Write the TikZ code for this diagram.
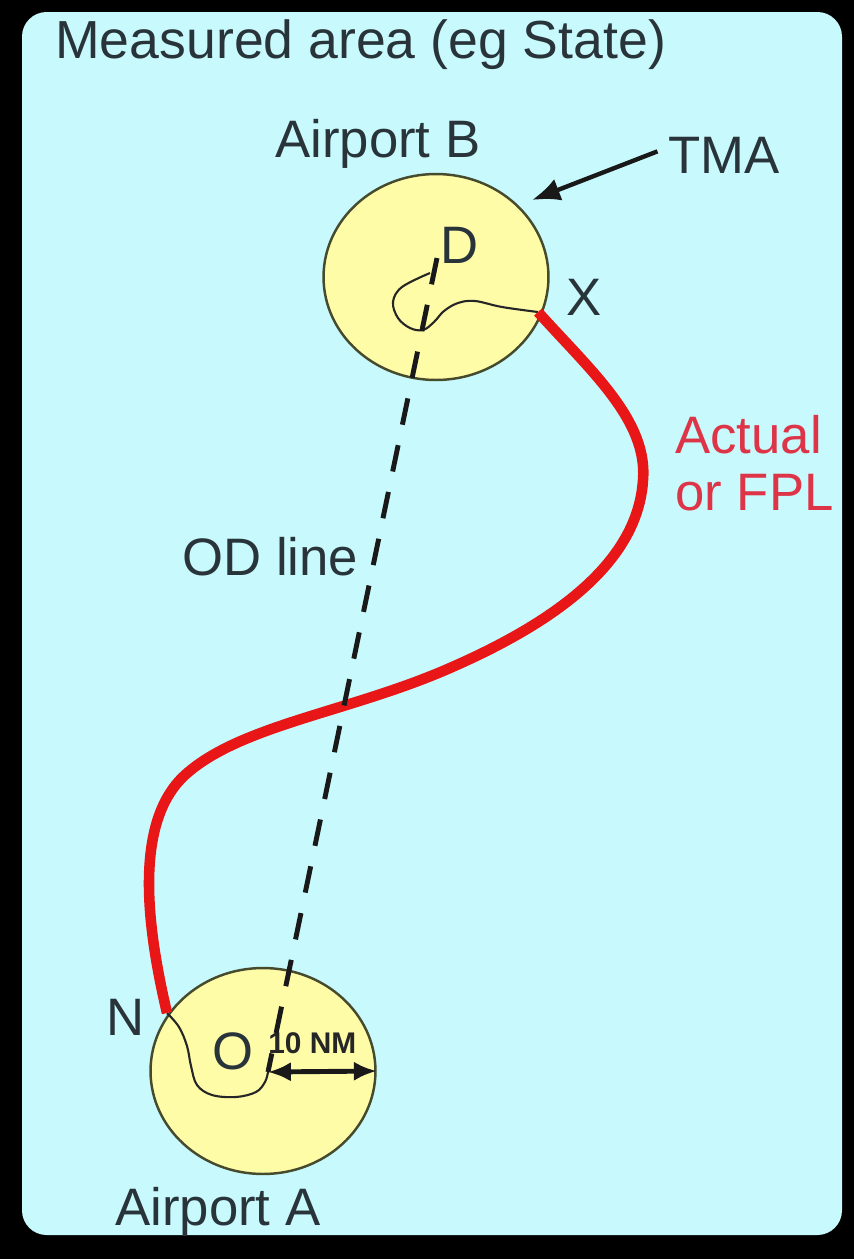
\documentclass[tikz,border=0pt]{standalone}
\usepackage{fontspec}
\setmainfont{Liberation Sans}
\usetikzlibrary{shapes.geometric,arrows.meta}
\definecolor{bgcyan}{RGB}{200,249,252}
\definecolor{apyellow}{RGB}{255,252,168}
\definecolor{apedge}{RGB}{70,75,45}
\definecolor{txt}{RGB}{40,52,58}
\definecolor{fplred}{RGB}{232,22,22}
\definecolor{fpltxt}{RGB}{222,52,72}
\tikzset{
  lbl/.style={anchor=base west, inner sep=0pt, text=txt, font=\fontsize{30}{34}\selectfont},
  redlbl/.style={lbl, text=fpltxt},
  airport/.style={ellipse, draw=apedge, line width=1.4pt, fill=apyellow,
    minimum width=4.5cm, minimum height=4.12cm, inner sep=0pt},
  thinpath/.style={draw=black!85, line width=1.2pt, line join=round},
  fplpath/.style={draw=fplred, line width=6pt, line cap=butt, line join=round},
  odline/.style={draw=black!90, line width=2.8pt, dash pattern=on 15.3pt off 11.9pt},
  pointer/.style={draw=black!90, line width=2.5pt, -{Latex[length=16pt,width=13pt]}},
  dimarrow/.style={draw=black!90, line width=2.8pt, {Latex[length=13pt,width=11pt]}-{Latex[length=13pt,width=11pt]}}
}
\begin{document}
\begin{tikzpicture}[x=0.02cm, y=-0.02cm]
  % frame and measured area
  \fill[black] (0,0) rectangle (854,1259);
  \useasboundingbox (0,0) rectangle (854,1259);
  \fill[bgcyan, rounded corners=14pt] (22,12) rectangle (842,1235);

  % airports (TMAs)
  \node[airport] (B) at (436,277) {};
  \node[airport] (A) at (263,1071) {};

  % key points
  \coordinate (xpt) at (538,312);
  \coordinate (npt) at (167,1013);
  \coordinate (dtop) at (437,258);
  \coordinate (obot) at (268,1072);
  \coordinate (tmatip) at (532,200);

  % thin ground tracks inside the TMAs
  \draw[thinpath] plot[smooth, tension=0.6] coordinates {(430,273) (402,287) (393,302) (398,318) (410,328) (423,330) (434,322) (444,311) (458,303) (475,301) (502,307) (xpt)};
  \draw[thinpath] plot[smooth, tension=0.6] coordinates {(npt) (179,1027) (187,1046) (191,1066) (197,1085) (212,1095) (236,1097) (256,1092) (265,1082) (obot)};

  % actual / FPL trajectory
  \draw[fplpath] (xpt) .. controls (590,370) and (648,420) .. (643,480)
    .. controls (638,560) and (560,620) .. (450,668)
    .. controls (350,712) and (240,725) .. (185,775)
    .. controls (130,825) and (150,940) .. (npt);

  % labels
  \node[lbl, font=\fontsize{30.5}{34}\selectfont] (title) at (55,58) {Measured area (eg State)};
  \node[lbl] (lblB) at (275,157) {Airport B};
  \node[lbl] (lblA) at (115,1225) {Airport A};
  \node[lbl] (tma) at (668,173) {TMA};
  \node[lbl] (dlbl) at (440,263) {D};
  \node[lbl] (xlbl) at (566,315) {X};
  \node[lbl] (olbl) at (212,1069) {O};
  \node[lbl] (nlbl) at (106,1035) {N};
  \node[lbl] (odlbl) at (182,575) {OD line};
  \node[redlbl] (act) at (675,453) {Actual};
  \node[redlbl] (fpl) at (675,510) {or FPL};
  \node[lbl, font=\bfseries\fontsize{17}{20}\selectfont, text=black!85] (nm) at (268,1053) {10 NM};

  % OD line and arrows
  \draw[odline] (dtop) -- (obot);
  \draw[pointer] ([xshift=-6pt, yshift=2pt]tma.west) -- (tmatip);
  \draw[dimarrow] (obot) -- (A.east);
\end{tikzpicture}
\end{document}
